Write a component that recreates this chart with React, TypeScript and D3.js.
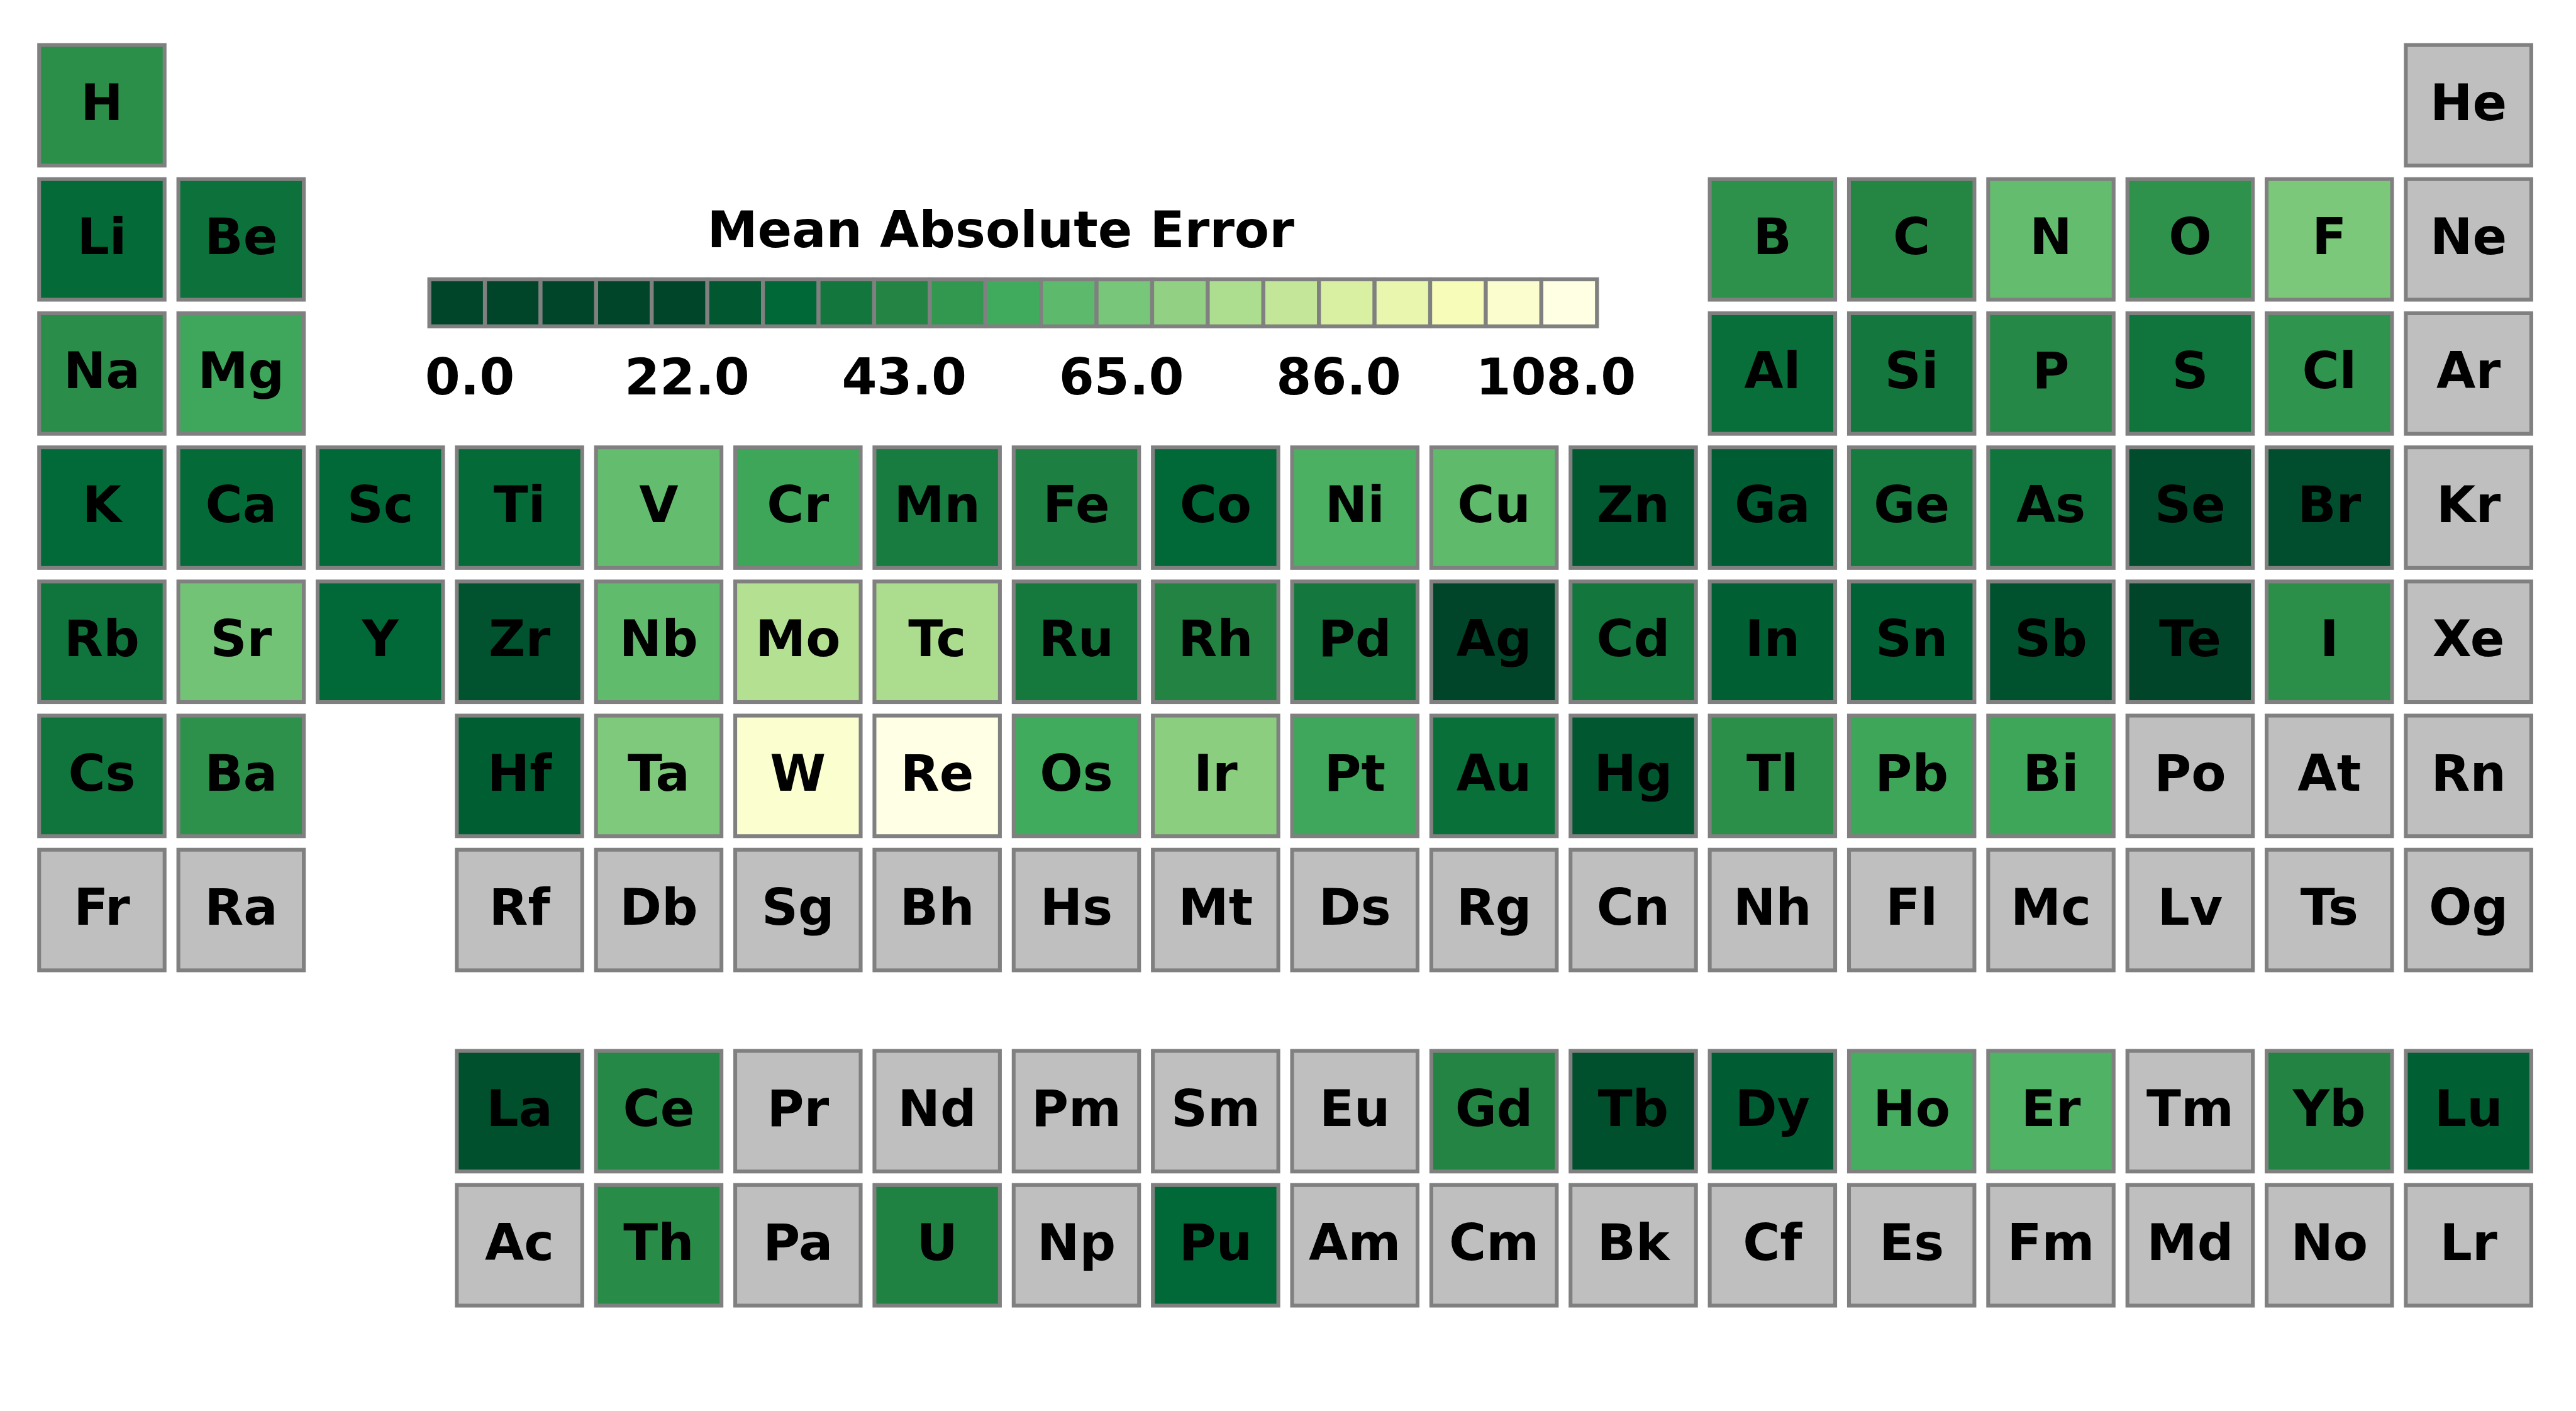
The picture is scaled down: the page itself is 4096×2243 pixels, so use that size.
import React from "react";
import * as d3 from "d3";

// ---------- data ----------
const symbols = (
  "H He Li Be B C N O F Ne Na Mg Al Si P S Cl Ar K Ca Sc Ti V Cr Mn Fe Co Ni Cu Zn Ga Ge As Se Br Kr " +
  "Rb Sr Y Zr Nb Mo Tc Ru Rh Pd Ag Cd In Sn Sb Te I Xe Cs Ba La Ce Pr Nd Pm Sm Eu Gd Tb Dy Ho Er Tm Yb Lu " +
  "Hf Ta W Re Os Ir Pt Au Hg Tl Pb Bi Po At Rn Fr Ra Ac Th Pa U Np Pu Am Cm Bk Cf Es Fm Md No Lr " +
  "Rf Db Sg Bh Hs Mt Ds Rg Cn Nh Fl Mc Lv Ts Og"
).split(" ");

const dataSymbols = [
  "H",
  "Li", "Be", "B", "C", "N", "O", "F",
  "Na", "Mg", "Al", "Si", "P", "S", "Cl",
  "K", "Ca", "Sc", "Ti", "V", "Cr", "Mn", "Fe", "Co", "Ni", "Cu", "Zn", "Ga", "Ge", "As", "Se", "Br",
  "Rb", "Sr", "Y", "Zr", "Nb", "Mo", "Tc", "Ru", "Rh", "Pd", "Ag", "Cd", "In", "Sn", "Sb", "Te", "I",
  "Cs", "Ba", "Hf", "Ta", "W", "Re", "Os", "Ir", "Pt", "Au", "Hg", "Tl", "Pb", "Bi",
  "La", "Ce", "Gd", "Tb", "Dy", "Ho", "Er", "Yb", "Lu",
  "Th", "U", "Pu",
];
const maeValues = [
  46,
  33, 35.5, 46.5, 43.5, 61, 47, 66,
  45.5, 53, 34.5, 38, 44, 37, 47.5,
  32.5, 33, 32, 33, 61, 52.5, 39.5, 41, 32, 56, 60, 27, 28, 39, 37, 23, 23.5,
  37, 64, 32, 25, 60.5, 78, 76, 38.5, 42.5, 38, 20.7, 37.5, 29, 30, 24.5, 20.7, 46,
  37, 46.5, 28.5, 66.5, 104, 109.5, 54, 69, 53, 35, 26.5, 46, 52.5, 52.5,
  24, 44, 43, 24, 28, 55, 57, 42.5, 29,
  45, 42, 32,
];

const colorMin = 20.7;
const colorMax = 109.5;
const tickValues = d3.range(6).map((i) => (i * 108) / 5);
const legendTitle = "Mean Absolute Error";
const legendCells = 21;

// ---------- layout helpers ----------
function gridPos(z: number): [number, number] {
  // returns [row, col]
  if (z === 1) return [0, 0];
  if (z === 2) return [0, 17];
  if (z <= 4) return [1, z - 3];
  if (z <= 10) return [1, z - 5 + 12];
  if (z <= 12) return [2, z - 11];
  if (z <= 18) return [2, z - 13 + 12];
  if (z <= 36) return [3, z - 19];
  if (z <= 54) return [4, z - 37];
  if (z <= 56) return [5, z - 55];
  if (z <= 71) return [7.5, z - 57 + 3];
  if (z <= 86) return [5, z - 72 + 3];
  if (z <= 88) return [6, z - 87];
  if (z <= 103) return [8.5, z - 89 + 3];
  return [6, z - 104 + 3];
}

const W = 4245;
const H = 2325;
const FONT = "'DejaVu Sans', sans-serif";
const FS = 83.5;

export default function App() {
  const valueMap = new Map<string, number>();
  dataSymbols.forEach((s, i) => valueMap.set(s, maeValues[i]));

  const palette = d3.schemeYlGn[9].slice().reverse();
  const color = d3
    .scaleLinear<string>()
    .domain(d3.range(9).map((i) => colorMin + (i * (colorMax - colorMin)) / 8))
    .range(palette)
    .interpolate(d3.interpolateRgb)
    .clamp(true);

  const xBand = d3
    .scaleBand<number>()
    .domain(d3.range(18))
    .range([61, 4174.8])
    .paddingInner(0.0715)
    .paddingOuter(0);
  const yRow = d3.scaleLinear().domain([0, 1]).range([71, 292]);
  const cellH = 205;
  const sw = 6.3;

  // legend scale
  const lx = d3.scaleLinear().domain([0, 108]).range([774, 2564]);
  const barLeft = lx(0) - 70;
  const barRight = lx(108) + 71;
  const barTop = 457;
  const barBottom = 541;
  const lsw = 6.5;
  const cw = (barRight - barLeft - lsw) / legendCells;

  return (
    <svg
      width={4096}
      height={2243}
      viewBox={`0 0 ${W} ${H}`}
      style={{ position: "absolute", left: 0, top: 0, background: "#ffffff" }}
    >
      <rect x={0} y={0} width={W} height={H} fill="#ffffff" />
      {symbols.map((s, i) => {
        const [row, col] = gridPos(i + 1);
        const x0 = xBand(col)!;
        const bw = xBand.bandwidth();
        const y0 = yRow(row);
        const v = valueMap.get(s);
        const fill = v === undefined ? "#bfbfbf" : color(v);
        return (
          <g key={s}>
            <rect
              x={x0 + sw / 2}
              y={y0 + sw / 2}
              width={bw - sw}
              height={cellH - sw}
              fill={fill}
              stroke="#808080"
              strokeWidth={sw}
            />
            <text
              x={x0 + bw / 2}
              y={y0 + 126.5}
              textAnchor="middle"
              fontFamily={FONT}
              fontWeight="bold"
              fontSize={FS}
              fill="#000000"
            >
              {s}
            </text>
          </g>
        );
      })}

      {/* legend */}
      <text
        x={1649}
        y={407}
        textAnchor="middle"
        fontFamily={FONT}
        fontWeight="bold"
        fontSize={FS}
        fill="#000000"
      >
        {legendTitle}
      </text>
      {d3.range(legendCells).map((k) => {
        const cx = barLeft + lsw / 2 + (k + 0.5) * cw;
        const v = lx.invert(cx);
        return (
          <rect
            key={k}
            x={barLeft + lsw / 2 + k * cw}
            y={barTop + lsw / 2}
            width={cw}
            height={barBottom - barTop - lsw}
            fill={color(v)}
            stroke="#808080"
            strokeWidth={lsw}
          />
        );
      })}
      {tickValues.map((t) => (
        <text
          key={t}
          x={lx(t)}
          y={650}
          textAnchor="middle"
          fontFamily={FONT}
          fontWeight="bold"
          fontSize={FS}
          fill="#000000"
        >
          {Math.round(t).toFixed(1)}
        </text>
      ))}
    </svg>
  );
}
